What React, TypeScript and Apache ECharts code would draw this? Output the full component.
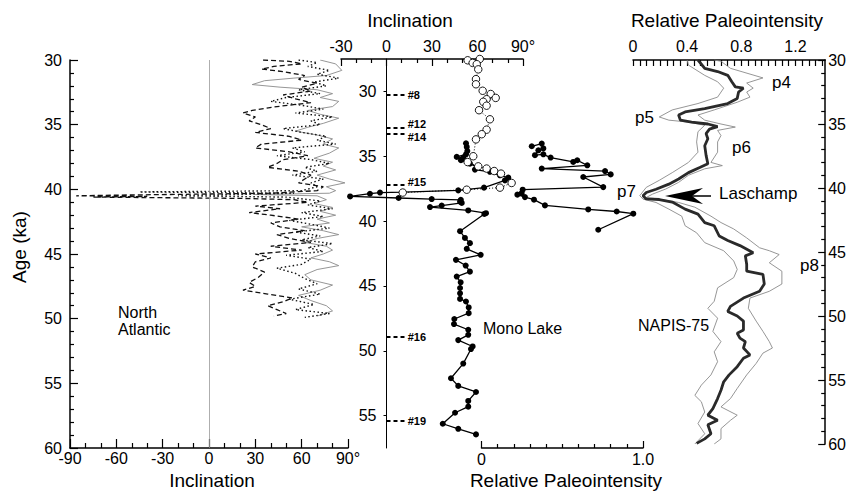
import React, { useEffect, useRef } from 'react';
import * as echarts from 'echarts';

const FONT = '"Liberation Sans", Arial, Helvetica, sans-serif';

// ---------- North Atlantic inclination records: [age (ka), inclination (deg)]
const naDashed: [number, number][] = [
  [30.0, 35], [30.1, 52], [30.3, 60], [30.5, 42], [30.7, 34], [30.9, 48], [31.2, 62], [31.5, 58],
  [31.8, 70], [32.1, 60], [32.4, 66], [32.7, 48], [33.0, 56], [33.3, 66], [33.6, 44], [33.9, 28],
  [34.1, 22], [34.4, 30], [34.7, 26], [35.0, 34], [35.3, 40], [35.6, 30], [35.9, 52], [36.2, 60],
  [36.5, 34], [36.8, 30], [37.1, 52], [37.4, 64], [37.7, 48], [38.0, 44], [38.3, 38], [38.6, 58],
  [38.9, 66], [39.2, 62], [39.5, 58], [39.8, 74], [40.1, 70], [40.3, 40], [40.45, -60], [40.5, -86],
  [40.55, -40], [40.6, -75], [40.7, 20], [40.8, 55], [41.0, 64], [41.3, 30], [41.5, 46], [41.8, 26],
  [42.0, 40], [42.3, 58], [42.6, 40], [42.9, 46], [43.2, 62], [43.5, 44], [43.8, 52], [44.1, 66],
  [44.4, 40], [44.7, 60], [45.0, 30], [45.3, 40], [45.6, 30], [46.0, 28], [46.4, 36], [46.8, 32],
  [47.2, 26], [47.5, 30], [47.8, 22], [48.1, 38], [48.4, 54], [48.7, 48], [49.0, 38], [49.3, 44],
  [49.6, 50], [49.8, 42],
];
const naDotted: [number, number][] = [
  [30.0, 58], [30.2, 70], [30.5, 64], [30.8, 78], [31.1, 70], [31.4, 84], [31.7, 68], [32.0, 76],
  [32.3, 58], [32.6, 72], [32.9, 50], [33.2, 40], [33.5, 60], [33.8, 74], [34.1, 56], [34.4, 80],
  [34.7, 66], [35.0, 72], [35.3, 48], [35.6, 60], [35.9, 76], [36.2, 70], [36.5, 82], [36.8, 54],
  [37.1, 62], [37.4, 44], [37.7, 66], [38.0, 78], [38.3, 62], [38.6, 70], [38.9, 54], [39.2, 74],
  [39.5, 66], [39.8, 70], [40.1, 60], [40.2, -45], [40.3, 55], [40.5, -20], [40.6, 50], [40.9, 72],
  [41.2, 64], [41.5, 80], [41.8, 60], [42.1, 74], [42.4, 52], [42.7, 66], [43.0, 78], [43.3, 56],
  [43.6, 72], [43.9, 60], [44.2, 80], [44.5, 64], [44.8, 74], [45.1, 50], [45.4, 66], [45.8, 60],
  [46.1, 44], [46.5, 56], [46.9, 62], [47.3, 70], [47.7, 58], [48.1, 72], [48.5, 52], [48.9, 68],
  [49.3, 56], [49.6, 78], [49.9, 62],
];
const naGray: [number, number][] = [
  [30.0, 72], [30.3, 82], [30.8, 86], [31.2, 76], [31.4, 55], [31.6, 36], [31.9, 28], [32.1, 46],
  [32.3, 70], [32.6, 80], [32.9, 72], [33.2, 84], [33.6, 80], [33.9, 64], [34.2, 72], [34.5, 84],
  [34.9, 74], [35.2, 64], [35.5, 56], [35.8, 70], [36.1, 80], [36.5, 74], [36.8, 84], [37.2, 78],
  [37.6, 68], [37.9, 80], [38.2, 74], [38.5, 82], [38.9, 70], [39.2, 78], [39.5, 88], [39.8, 76],
  [40.1, 82], [40.3, 78], [40.4, 30], [40.5, 70], [40.8, 76], [41.1, 68], [41.4, 80], [41.7, 72],
  [42.0, 82], [42.3, 70], [42.6, 78], [42.9, 60], [43.2, 74], [43.5, 84], [43.8, 70], [44.1, 62],
  [44.4, 76], [44.7, 80], [45.0, 74], [45.3, 66], [45.6, 78], [45.9, 84], [46.2, 70], [46.6, 62],
  [47.0, 66], [47.4, 80], [47.8, 72], [48.2, 58], [48.6, 66], [49.0, 76], [49.4, 80], [49.8, 70],
];

// ---------- Mono Lake: [age (ka), value]
const monoOpenInclination: [number, number][] = [
  [27.5, 61.5], [27.6, 53.5], [27.8, 56.8], [27.9, 59.5], [28.3, 60.5], [29.05, 59], [29.45, 59],
  [29.95, 63.4], [30.2, 68.7], [30.5, 72], [30.6, 66], [30.8, 63.8], [31.1, 66], [31.45, 61],
  [32.15, 68.2], [32.95, 66], [33.3, 62.8], [33.7, 59], [35.0, 57.2], [35.45, 53.5], [35.78, 60.5],
  [35.95, 66], [36.14, 71], [36.34, 75.5], [37.06, 82.5], [37.42, 74.8], [37.58, 52.9], [37.8, 10.7],
];
const monoFilledInclination: [number, number][] = [
  [34.0, 52.4], [34.28, 52.9], [34.6, 53.3], [34.85, 52.4], [35.05, 46.3], [35.1, 50.6], [35.3, 49.1],
  [35.57, 55], [35.83, 59.5], [36.03, 58.3], [36.2, 68.2], [36.47, 74.8], [36.65, 80.3], [36.86, 78.1],
  [37.42, 64.3], [37.63, 47.3], [37.76, 11], [37.8, -4.3], [37.89, -10.9], [38.1, -24], [38.22, 8],
  [38.3, 29.8], [38.36, 49], [38.5, 48.5], [38.6, 49.6], [38.8, 36.4], [38.92, 28.7], [39.18, 53.9],
  [39.39, 65.6], [39.45, 64.5], [40.78, 48.5], [41.3, 51.7], [41.7, 55], [42.14, 52.9], [42.6, 62.1],
  [42.99, 45.8], [43.43, 52.2], [43.9, 55], [44.28, 46.3], [44.72, 48.9], [45.16, 48.5], [45.57, 48.5],
  [46.0, 48.5], [46.2, 52.4], [46.66, 54.2], [47.1, 54.2], [47.55, 44.7], [47.94, 44.5], [48.38, 53.9],
  [48.77, 53.9], [49.18, 47.3], [49.67, 56.8], [49.87, 55.7], [50.99, 50.6], [52.12, 42.5],
  [52.71, 47.3], [53.18, 59], [53.87, 53.9], [54.31, 53.9], [54.78, 45.2], [55.63, 37.1],
  [56.02, 47.3], [56.45, 59],
];
const monoIntensity: [number, number][] = [
  [34.23, 0.311], [34.02, 0.373], [34.4, 0.383], [34.54, 0.352], [34.92, 0.331], [34.85, 0.383],
  [35.1, 0.428], [35.44, 0.568], [35.31, 0.593], [35.7, 0.655], [35.95, 0.373], [36.14, 0.765],
  [36.4, 0.8], [36.6, 0.63], [37.38, 0.754], [37.58, 0.255], [37.84, 0.249], [37.96, 0.222],
  [38.15, 0.269], [38.35, 0.325], [38.79, 0.393], [39.1, 0.661], [39.26, 0.837], [39.43, 0.94],
  [40.67, 0.723],
];
const ashLabels = ['#8', '#12', '#14', '#15', '#16', '#19'];
const ashAges = [30.25, 32.82, 33.28, 37.21, 48.93, 55.41];
const ashLabelShift = [0, -4, 3, -3, 0, 0];

// ---------- NAPIS-75 relative paleointensity: [age (ka), value]
const napisMean: [number, number][] = [
  [30.0, 0.48], [30.65, 0.53], [30.9, 0.625], [31.2, 0.70], [31.7, 0.73], [32.1, 0.756], [32.2, 0.816],
  [32.5, 0.78], [33.0, 0.77], [33.4, 0.70], [33.8, 0.53], [34.06, 0.385], [34.3, 0.337], [34.7, 0.35],
  [34.85, 0.433], [35.0, 0.553], [35.2, 0.625], [35.4, 0.565], [35.75, 0.54], [36.15, 0.553],
  [36.7, 0.53], [37.45, 0.54], [38.1, 0.553], [38.4, 0.493], [38.8, 0.41], [39.3, 0.337], [39.7, 0.265],
  [40.1, 0.17], [40.35, 0.098], [40.6, 0.074], [40.85, 0.098], [40.9, 0.194], [41.1, 0.29],
  [41.65, 0.385], [42.04, 0.48], [42.7, 0.53], [42.95, 0.60], [43.75, 0.637], [44.1, 0.70],
  [44.5, 0.79], [45.06, 0.888], [45.3, 0.83], [45.97, 0.84], [46.5, 0.84], [46.75, 0.96], [47.5, 0.97],
  [48.07, 0.935], [48.6, 0.816], [49.25, 0.72], [49.64, 0.70], [50.0, 0.77], [50.4, 0.816],
  [51.1, 0.816], [51.35, 0.77], [51.73, 0.79], [52.0, 0.83], [52.5, 0.816], [53.04, 0.864],
  [53.3, 0.816], [53.96, 0.77], [54.6, 0.71], [55.14, 0.67], [55.8, 0.65], [56.45, 0.625],
  [57.23, 0.59], [57.75, 0.553], [58.15, 0.625], [58.5, 0.553], [59.2, 0.576], [59.6, 0.53],
  [59.95, 0.47],
];
const napisUpper: [number, number][] = [
  [30.0, 0.60], [30.1, 0.65], [30.65, 0.72], [31.4, 0.96], [31.8, 0.84], [32.2, 0.888], [32.5, 0.84],
  [32.9, 0.864], [33.3, 0.77], [33.9, 0.60], [34.3, 0.48], [34.7, 0.53], [35.0, 0.65], [35.24, 0.756],
  [35.5, 0.625], [35.9, 0.65], [36.4, 0.625], [37.2, 0.625], [38.0, 0.576], [38.25, 0.66], [38.5, 0.53],
  [39.0, 0.41], [39.56, 0.337], [40.08, 0.242], [40.47, 0.146], [40.74, 0.098], [40.87, 0.194],
  [41.13, 0.337], [41.5, 0.457], [42.2, 0.576], [42.7, 0.65], [43.2, 0.744], [43.9, 0.84],
  [44.67, 0.935], [44.9, 1.007], [45.2, 1.08], [45.84, 1.007], [46.5, 1.10], [47.5, 1.10],
  [48.07, 1.007], [48.6, 0.864], [49.4, 0.852], [50.4, 0.91], [51.2, 0.96], [52.0, 1.007],
  [52.5, 1.03], [52.9, 0.96], [53.7, 0.91], [54.6, 0.84], [55.66, 0.77], [56.45, 0.72], [57.1, 0.65],
  [57.75, 0.77], [58.15, 0.72], [58.8, 0.65], [59.6, 0.65], [60.0, 0.60],
];
const napisLower: [number, number][] = [
  [30.0, 0.40], [30.4, 0.41], [31.2, 0.53], [31.7, 0.625], [32.2, 0.67], [32.9, 0.625], [33.4, 0.48],
  [33.9, 0.29], [34.45, 0.194], [34.7, 0.265], [34.85, 0.41], [35.1, 0.53], [35.6, 0.48], [36.4, 0.47],
  [37.2, 0.48], [38.0, 0.41], [38.8, 0.29], [39.4, 0.194], [39.95, 0.098], [40.6, 0.05], [40.87, 0.074],
  [41.13, 0.17], [41.65, 0.265], [42.2, 0.36], [42.95, 0.385], [43.5, 0.47], [44.27, 0.53],
  [44.9, 0.67], [45.7, 0.744], [46.36, 0.77], [47.0, 0.744], [47.8, 0.625], [48.85, 0.60],
  [49.4, 0.553], [50.17, 0.625], [51.2, 0.59], [52.0, 0.65], [52.8, 0.60], [53.57, 0.625],
  [54.6, 0.576], [55.4, 0.505], [56.2, 0.457], [56.7, 0.505], [57.5, 0.53], [58.4, 0.48],
  [59.2, 0.53], [60.0, 0.457],
];

// ---------- tick values
const monoAgeTicks = [30, 35, 40, 45, 50, 55];
const napisLabelTicks = [0, 0.4, 0.8, 1.2];
const napisTicks = [
  0, 0.05, 0.1, 0.15, 0.2, 0.25, 0.3, 0.35, 0.4, 0.45, 0.5, 0.55, 0.6, 0.65, 0.7,
  0.75, 0.8, 0.85, 0.9, 0.95, 1.0, 1.05, 1.1, 1.15, 1.2, 1.25, 1.3, 1.35, 1.4,
];

const axisLineStyle = { color: '#000', width: 1.5 };
const tickLineStyle = { color: '#000', width: 1.2 };
const labelStyle = { color: '#000', fontSize: 16, fontFamily: FONT };

const flip = (d: [number, number][]) => d.map(([a, v]) => [v, a]);

function text(x: number, y: number, t: string, size: number, align = 'left', extra: any = {}) {
  return {
    type: 'text',
    x,
    y,
    silent: true,
    ...extra,
    style: {
      text: t,
      fill: '#000',
      fontSize: size,
      fontFamily: FONT,
      align,
      verticalAlign: 'middle',
      lineHeight: size + 1,
    },
  };
}

export default function App() {
  const ref = useRef<HTMLDivElement>(null);
  useEffect(() => {
    if (!ref.current) return;
    const chart = echarts.init(ref.current, undefined, { renderer: 'svg' });
    const option: any = {
      animation: false,
      backgroundColor: '#fff',
      textStyle: { fontFamily: FONT },
      grid: [
        { left: 70, top: 60, width: 278, height: 388 },
        { left: 341, top: 59, width: 182, height: 389 },
        { left: 481.5, top: 59, width: 161.5, height: 389 },
        { left: 633, top: 60, width: 197, height: 384 },
      ],
      xAxis: [
        {
          gridIndex: 0, type: 'value', min: -90, max: 90, interval: 30, position: 'bottom',
          axisLine: { onZero: false, lineStyle: axisLineStyle },
          axisTick: { inside: true, length: 9, lineStyle: tickLineStyle },
          minorTick: { show: true, splitNumber: 3, length: 5, lineStyle: tickLineStyle },
          axisLabel: { ...labelStyle, margin: 2, formatter: (v: number) => (v === 90 ? '90°' : String(v)) },
          splitLine: { show: false },
        },
        {
          gridIndex: 1, type: 'value', min: -30, max: 90, interval: 30, position: 'top',
          axisLine: { onZero: false, lineStyle: axisLineStyle },
          axisTick: { inside: true, length: 7, lineStyle: tickLineStyle },
          minorTick: { show: true, splitNumber: 3, length: 4, lineStyle: tickLineStyle },
          axisLabel: { ...labelStyle, margin: 5, formatter: (v: number) => (v === 90 ? '90°' : String(v)) },
          splitLine: { show: false },
        },
        {
          gridIndex: 2, type: 'value', min: 0, max: 1, interval: 1, position: 'bottom',
          axisLine: { onZero: false, lineStyle: axisLineStyle },
          axisTick: { inside: true, length: 7, lineStyle: tickLineStyle },
          minorTick: { show: true, splitNumber: 10, length: 4, lineStyle: tickLineStyle },
          axisLabel: { ...labelStyle, margin: 3, formatter: (v: number) => (v === 1 ? '1.0' : String(v)) },
          splitLine: { show: false },
        },
        {
          gridIndex: 3, type: 'value', min: 0, max: 1.42, position: 'top',
          axisLine: { onZero: false, lineStyle: axisLineStyle },
          axisTick: { inside: true, length: 6, lineStyle: tickLineStyle, customValues: napisTicks },
          axisLabel: { ...labelStyle, margin: 6, customValues: napisLabelTicks },
          splitLine: { show: false },
        },
      ],
      yAxis: [
        {
          gridIndex: 0, type: 'value', min: 30, max: 60, interval: 5, inverse: true,
          axisLine: { onZero: false, lineStyle: axisLineStyle },
          axisTick: { inside: true, length: 8, lineStyle: tickLineStyle },
          minorTick: { show: true, splitNumber: 5, length: 4, lineStyle: tickLineStyle },
          axisLabel: { ...labelStyle, margin: 8 },
          splitLine: { show: false },
        },
        {
          gridIndex: 1, type: 'value', min: 27.5, max: 57.5, inverse: true, position: 'left',
          offset: -45.5,
          axisLine: { onZero: false, lineStyle: { color: '#000', width: 1 } },
          axisTick: { inside: false, length: 3, lineStyle: { color: '#000', width: 1 }, customValues: monoAgeTicks },
          axisLabel: { ...labelStyle, margin: 10, customValues: monoAgeTicks },
          splitLine: { show: false },
        },
        {
          gridIndex: 2, type: 'value', min: 27.5, max: 57.5, inverse: true, show: false,
          splitLine: { show: false },
        },
        {
          gridIndex: 3, type: 'value', min: 30, max: 60, interval: 5, inverse: true, position: 'right',
          axisLine: { onZero: false, lineStyle: axisLineStyle },
          axisTick: { inside: true, length: 7, lineStyle: tickLineStyle },
          minorTick: { show: true, splitNumber: 5, length: 4, lineStyle: tickLineStyle },
          axisLabel: { ...labelStyle, margin: 3 },
          splitLine: { show: false },
        },
      ],
      series: [
        {
          type: 'line', xAxisIndex: 0, yAxisIndex: 0, data: flip(naGray), symbol: 'none',
          lineStyle: { color: '#8a8a8a', width: 0.9 },
          markLine: {
            silent: true, symbol: ['none', 'none'], label: { show: false },
            lineStyle: { color: '#999', width: 0.8, type: 'solid' },
            data: [{ xAxis: 0 }],
          },
        },
        {
          type: 'line', xAxisIndex: 0, yAxisIndex: 0, data: flip(naDotted), symbol: 'none',
          lineStyle: { color: '#111', width: 1.4, type: [1.5, 2.5] },
        },
        {
          type: 'line', xAxisIndex: 0, yAxisIndex: 0, data: flip(naDashed), symbol: 'none',
          lineStyle: { color: '#111', width: 1.3, type: [5, 3] },
        },
        {
          type: 'line', xAxisIndex: 1, yAxisIndex: 1, data: flip(monoFilledInclination),
          symbol: 'circle', symbolSize: 6, showAllSymbol: true,
          itemStyle: { color: '#000' }, lineStyle: { color: '#000', width: 1.3 },
        },
        {
          type: 'line', xAxisIndex: 1, yAxisIndex: 1, data: flip(monoOpenInclination),
          symbol: 'circle', symbolSize: 7.5, showAllSymbol: true, z: 3,
          itemStyle: { color: '#fff', borderColor: '#000', borderWidth: 0.9 },
          lineStyle: { color: '#000', width: 1, type: [1, 2] },
          markLine: {
            silent: true, symbol: ['none', 'none'],
            lineStyle: { color: '#000', width: 2, type: [4, 3] },
            label: {
              show: true, position: 'end', distance: 3, formatter: (p: any) => p.name,
              fontSize: 11, fontWeight: 'bold', color: '#000', fontFamily: FONT,
            },
            data: ashAges.map((a, i) => [
              { coord: [0, a], name: ashLabels[i], label: { offset: [0, ashLabelShift[i]] } },
              { coord: [12, a] },
            ]),
          },
        },
        {
          type: 'line', xAxisIndex: 2, yAxisIndex: 2, data: flip(monoIntensity),
          symbol: 'circle', symbolSize: 6, showAllSymbol: true,
          itemStyle: { color: '#000' }, lineStyle: { color: '#000', width: 1.3 },
        },
        {
          type: 'line', xAxisIndex: 3, yAxisIndex: 3, data: flip(napisUpper), symbol: 'none',
          lineStyle: { color: '#8a8a8a', width: 0.9 },
        },
        {
          type: 'line', xAxisIndex: 3, yAxisIndex: 3, data: flip(napisLower), symbol: 'none',
          lineStyle: { color: '#8a8a8a', width: 0.9 },
        },
        {
          type: 'line', xAxisIndex: 3, yAxisIndex: 3, data: flip(napisMean), symbol: 'none',
          lineStyle: { color: '#2a2a2a', width: 2.8 },
        },
      ],
      graphic: [
        text(410, 20, 'Inclination', 19, 'center'),
        text(727, 20, 'Relative Paleointensity', 19, 'center'),
        text(212, 480, 'Inclination', 19, 'center'),
        text(566, 480, 'Relative Paleointensity', 19, 'center'),
        text(19, 247, 'Age (ka)', 19, 'center', { rotation: Math.PI / 2 }),
        { type: 'text', x: 118, y: 304, silent: true,
          style: { text: 'North\nAtlantic', fill: '#000', fontSize: 16, fontFamily: FONT, lineHeight: 17, align: 'left', verticalAlign: 'top' } },
        text(483, 328, 'Mono Lake', 16),
        text(638, 325, 'NAPIS-75', 16),
        text(772, 82, 'p4', 17),
        text(635, 117, 'p5', 17),
        text(732, 147, 'p6', 17),
        text(617, 191, 'p7', 17),
        text(719, 193, 'Laschamp', 17),
        text(800, 265, 'p8', 17),
        {
          type: 'polygon', silent: true,
          shape: { points: [[665, 196], [703, 188], [692, 196], [703, 204]] },
          style: { fill: '#000' },
        },
        {
          type: 'line', silent: true,
          shape: { x1: 690, y1: 196, x2: 711, y2: 196 },
          style: { stroke: '#000', lineWidth: 1.5 },
        },
      ],
    };
    chart.setOption(option);
    return () => chart.dispose();
  }, []);
  return (
    <div
      ref={ref}
      style={{ position: 'fixed', left: 0, top: 0, width: 849, height: 492, background: '#fff' }}
    />
  );
}
